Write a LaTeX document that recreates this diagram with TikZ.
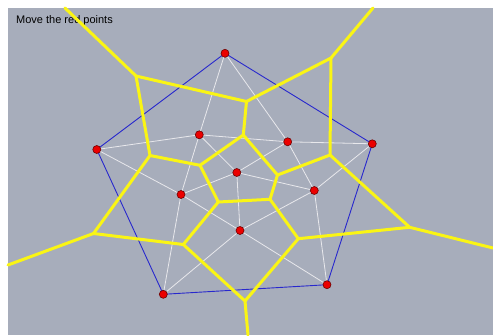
\documentclass[tikz,border=0pt]{standalone}
\usepackage{fontspec}
\setmainfont{Liberation Sans}
\definecolor{bggray}{RGB}{167,173,187}
\definecolor{vyellow}{RGB}{250,245,20}
\definecolor{hullblue}{RGB}{40,40,205}
\definecolor{dedge}{RGB}{232,232,236}
\definecolor{ptred}{RGB}{235,0,0}
\definecolor{ptborder}{RGB}{110,0,0}
\begin{document}
\begin{tikzpicture}[x=1pt,y=-1pt,
  pt/.style={circle,fill=ptred,draw=ptborder,line width=0.6pt,minimum size=8pt,inner sep=0pt},
  hull/.style={draw=hullblue,line width=0.9pt},
  dl/.style={draw=dedge,line width=0.8pt},
  vor/.style={draw=vyellow,line width=3pt,line join=round,line cap=round}]
\useasboundingbox (0,0) rectangle (493,335);
\fill[white] (0,0) rectangle (493,335);
\fill[bggray] (8,8) rectangle (493,335);
\node[anchor=base west,inner sep=0pt,font=\fontsize{11}{13}\selectfont] (title) at (16,23) {Move the red points};
% sites
\coordinate (p1) at (225,53.3);
\coordinate (p2) at (96.8,149.5);
\coordinate (p3) at (199.3,134.8);
\coordinate (p4) at (287.7,141.8);
\coordinate (p5) at (372.3,143.8);
\coordinate (p6) at (236.8,172.5);
\coordinate (p7) at (181,194.5);
\coordinate (p8) at (314.3,190.5);
\coordinate (p9) at (240,230.5);
\coordinate (p10) at (163.3,294.3);
\coordinate (p11) at (327,284.7);
% Voronoi vertices
\coordinate (A) at (136,76);
\coordinate (B) at (246.5,101.5);
\coordinate (C) at (331,58);
\coordinate (D) at (150,155.5);
\coordinate (E) at (243.3,135);
\coordinate (F) at (200,165.3);
\coordinate (G) at (330,155);
\coordinate (H) at (277.5,175);
\coordinate (I) at (218.3,202);
\coordinate (J) at (270,199.3);
\coordinate (K) at (93.5,233.5);
\coordinate (L) at (183.3,244.5);
\coordinate (M) at (245,301);
\coordinate (N) at (298.3,238.7);
\coordinate (O) at (409.7,227.3);
\coordinate (r1) at (65,8);
\coordinate (r2) at (373,8);
\coordinate (r3) at (8,265);
\coordinate (r4) at (493,248);
\coordinate (r5) at (248,335);
% convex hull
\draw[hull] (p1) -- (p5) -- (p11) -- (p10) -- (p2) -- cycle;
% Delaunay edges
\draw[dl] (p1) -- (p3); \draw[dl] (p1) -- (p4);
\draw[dl] (p2) -- (p3); \draw[dl] (p2) -- (p7);
\draw[dl] (p3) -- (p4); \draw[dl] (p3) -- (p6); \draw[dl] (p3) -- (p7);
\draw[dl] (p4) -- (p5); \draw[dl] (p4) -- (p6); \draw[dl] (p4) -- (p8);
\draw[dl] (p5) -- (p8);
\draw[dl] (p6) -- (p7); \draw[dl] (p6) -- (p8); \draw[dl] (p6) -- (p9);
\draw[dl] (p7) -- (p9); \draw[dl] (p7) -- (p10);
\draw[dl] (p8) -- (p9); \draw[dl] (p8) -- (p11);
\draw[dl] (p9) -- (p10); \draw[dl] (p9) -- (p11);
% Voronoi edges
\draw[vor] (r1) -- (A);
\draw[vor] (A) -- (B); \draw[vor] (B) -- (C); \draw[vor] (C) -- (r2);
\draw[vor] (A) -- (D); \draw[vor] (D) -- (K); \draw[vor] (K) -- (r3);
\draw[vor] (B) -- (E); \draw[vor] (E) -- (F); \draw[vor] (D) -- (F);
\draw[vor] (C) -- (G); \draw[vor] (E) -- (H); \draw[vor] (G) -- (H);
\draw[vor] (G) -- (O); \draw[vor] (O) -- (r4);
\draw[vor] (F) -- (I); \draw[vor] (H) -- (J); \draw[vor] (I) -- (J);
\draw[vor] (I) -- (L); \draw[vor] (K) -- (L);
\draw[vor] (J) -- (N); \draw[vor] (N) -- (O);
\draw[vor] (L) -- (M); \draw[vor] (M) -- (N); \draw[vor] (M) -- (r5);
% red points
\foreach \i in {1,...,11} \node[pt] (n\i) at (p\i) {};
\end{tikzpicture}
\end{document}
